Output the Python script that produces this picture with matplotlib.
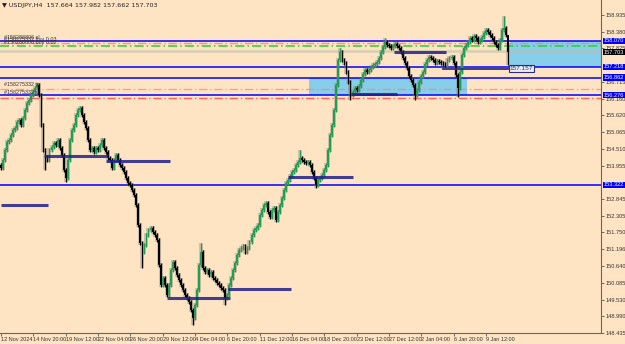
import numpy as np
import matplotlib.pyplot as plt
from matplotlib.transforms import blended_transform_factory

plt.rcParams['font.family'] = ['Liberation Sans', 'DejaVu Sans']

# USDJPY H4 - precos de fechamento
closes = [
    153.87, 154.14, 154.47, 154.73, 154.80, 154.96, 155.13, 155.20, 155.39, 155.46,
    155.29, 155.53, 155.79, 156.02, 156.12, 156.28, 156.38, 156.52, 156.61, 156.28,
    155.29, 154.47, 154.24, 154.14, 154.47, 154.57, 154.70, 154.63, 154.80, 154.53,
    154.30, 153.81, 153.54, 154.14, 154.80, 155.13, 155.29, 155.62, 155.79, 155.85,
    155.62, 155.39, 155.20, 154.80, 154.47, 154.53, 154.40, 154.53, 154.47, 154.63,
    154.80, 154.53, 154.40, 154.20, 154.14, 153.87, 154.14, 154.30, 154.14, 153.97,
    153.87, 153.74, 153.54, 153.38, 153.31, 153.15, 152.98, 152.65, 151.99, 151.40,
    151.10, 151.33, 151.66, 151.83, 151.89, 151.76, 151.66, 151.50, 150.67, 150.01,
    150.24, 150.01, 149.68, 150.01, 150.51, 150.77, 150.57, 150.34, 150.18, 150.01,
    149.85, 149.68, 149.58, 149.45, 149.19, 148.92, 149.35, 149.85, 150.67, 151.10,
    150.57, 150.44, 150.51, 150.34, 150.44, 150.24, 150.18, 150.08, 150.01, 149.91,
    149.85, 149.58, 149.68, 150.01, 150.24, 150.51, 150.74, 151.00, 151.17, 151.23,
    151.30, 151.10, 151.23, 151.43, 151.66, 151.83, 151.89, 151.99, 152.32, 152.49,
    152.65, 152.72, 152.42, 152.26, 152.49, 152.55, 152.16, 152.42, 152.65, 152.88,
    153.15, 153.38, 153.48, 153.61, 153.74, 153.81, 153.97, 154.07, 154.20, 154.14,
    154.07, 154.04, 154.07, 153.97, 153.74, 153.54, 153.31, 153.48, 153.54, 153.64,
    153.81, 153.97, 154.47, 154.96, 155.29, 155.79, 156.61, 157.44, 157.70, 157.44,
    157.34, 157.04, 156.71, 156.28, 156.38, 156.52, 156.45, 156.58, 156.78, 156.98,
    157.11, 157.04, 157.11, 157.21, 157.27, 157.31, 157.37, 157.51, 157.70, 157.87,
    158.03, 157.93, 157.90, 157.84, 157.90, 157.97, 157.90, 157.84, 157.70, 157.51,
    157.34, 157.18, 156.91, 156.78, 156.61, 156.28, 156.45, 156.71, 156.91, 157.04,
    157.31, 157.44, 157.54, 157.51, 157.44, 157.34, 157.41, 157.37, 157.34, 157.31,
    157.27, 157.44, 157.51, 157.54, 157.34, 156.94, 156.52, 157.04, 157.60, 157.84,
    157.93, 158.03, 158.17, 158.10, 158.23, 158.17, 158.03, 158.10, 158.20, 158.33,
    158.43, 158.36, 158.26, 158.17, 158.03, 157.93, 157.84, 158.10, 158.43, 158.50,
    158.26, 157.703,
]
# pavios maiores: indice -> (maxima, minima)
wicks = {
    22: (None, 153.81), 32: (None, 153.41), 39: (155.92, None), 70: (None, 150.57),
    95: (None, 148.69), 99: (151.40, None), 111: (None, 149.35), 148: (154.47, None),
    156: (None, 153.21), 168: (157.84, None), 173: (None, 156.12), 190: (158.17, None),
    205: (None, 156.12), 226: (None, 156.22), 240: (158.50, None), 249: (158.89, None),
    251: (157.982, 157.27),
}

date_labels = ["12 Nov 2024", "14 Nov 20:00", "19 Nov 12:00", "22 Nov 04:00", "26 Nov 20:00",
               "29 Nov 12:00", "4 Dec 04:00", "6 Dec 20:00", "11 Dec 12:00", "16 Dec 04:00",
               "18 Dec 20:00", "23 Dec 12:00", "27 Dec 12:00", "2 Jan 04:00", "6 Jan 20:00",
               "9 Jan 12:00"]
price_ticks = ["148.435", "148.990", "149.530", "150.085", "150.640", "151.196", "151.750",
               "152.305", "152.845", "153.955", "154.510", "155.065", "155.620",
               "156.160", "156.715", "157.825", "158.380", "158.935"]

blue_levels = [158.070, 157.218, 156.862, 156.276, 153.322]
# segmentos de suporte/resistencia: (preco, inicio, fim) em barras
segments = [(152.65, 0, 23.3), (154.27, 21.3, 53), (154.12, 52, 83.7), (149.58, 82.2, 113.4),
            (149.88, 112.4, 143.6), (153.59, 142, 174.3), (156.32, 173.3, 196),
            (157.69, 194.6, 220.3)]

bg = '#FFE4C4'
fig = plt.figure(figsize=(6.25, 3.44), dpi=100, facecolor=bg)
ax = fig.add_axes([0, 11/344, 601/625, 333/344])
ax.set_facecolor(bg)

n = len(closes)
idx = np.arange(n)
c = np.array(closes)
o = np.concatenate([[c[0] + 0.1], c[:-1]])
hi = np.maximum(o, c) + 0.07
lo = np.minimum(o, c) - 0.07
for k, (h, l) in wicks.items():
    if h is not None:
        hi[k] = h
    if l is not None:
        lo[k] = l

# retangulos azuis
ax.fill_between([152.5, 230.7], 156.276, 156.862, color='#87CEEB', zorder=1, lw=0)
ax.fill_between([252, 300], 157.218, 158.070, color='#87CEEB', zorder=1, lw=0)

# linhas horizontais
for p in blue_levels:
    ax.axhline(p, color='#0000FF', lw=1.1, zorder=2)
ax.axhline(158.00, color='#FA8072', lw=1, ls=(0, (6, 2, 1, 2)), alpha=0.8, zorder=2)
ax.axhline(156.48, color='#FA8072', lw=1, ls=(0, (6, 2, 1, 2)), alpha=0.7, zorder=2)
ax.axhline(156.19, color='#FF4040', lw=1, ls=(0, (6, 2, 1, 2)), alpha=0.8, zorder=2)
ax.axhline(157.90, color='#32CD32', lw=1.1, ls=(0, (6, 2, 1, 2)), zorder=2)
ax.axhline(157.75, color='#B8C0A8', lw=1.8, alpha=0.6, zorder=2)

# velas
up = c >= o
col = np.where(up, '#1F9E55', '#000000')
ax.vlines(idx, lo, hi, color='#7A7A6A', lw=2.8, alpha=0.35, zorder=3)
ax.vlines(idx, lo, hi, color=col, lw=0.9, zorder=4)
body = np.maximum(np.abs(c - o), 0.02)
ax.bar(idx, body, bottom=np.minimum(o, c), width=0.9, color=col, lw=0, zorder=4)

for p, x0, x1 in segments:
    ax.plot([x0, x1], [p, p], color='#20208C', lw=2.2, alpha=0.85, zorder=5,
            solid_capstyle='butt')
ax.plot([218.8, 251], [157.157, 157.157], color='#30307A', lw=1.3, zorder=5)
ax.text(251.8, 157.157, "157.157", fontsize=4.6, color='#2A2A80', va='center', ha='left',
        zorder=6, bbox=dict(boxstyle='square,pad=0.15', fc='#ECECF4', ec='#2A2A80', lw=0.8))

# textos a esquerda
left_txt = [(158.115, "#158288806 sl"), (158.02, "#158275332 buy 0.03"),
            (157.92, "#158286806 buy 0.02"), (156.55, "#158275332 tp"),
            (156.27, "#158275332 sl")]
for p, t in left_txt:
    ax.text(1.5, p, t, fontsize=3.9, color='#333333', va='bottom', ha='left', zorder=6)

ax.text(0.004, 0.992, "\u25bc USDJPY,H4  157.664 157.982 157.662 157.703", transform=ax.transAxes,
        fontsize=4.6, color='#222222', va='top', ha='left', family=['DejaVu Sans'])

ax.set_xlim(-0.5, 297)
ax.set_ylim(148.43, 159.42)

ax.set_xticks(np.arange(len(date_labels)) * 16)
ax.set_xticklabels(date_labels, fontsize=4.0, color='#333333', ha='left')
ax.yaxis.tick_right()
ax.set_yticks([float(t) for t in price_ticks])
ax.set_yticklabels(price_ticks, fontsize=4.1, color='#333333')
ax.tick_params(axis='both', length=2, width=0.6, color='#555555', pad=1)
for s in ['top', 'left']:
    ax.spines[s].set_visible(False)
for s in ['right', 'bottom']:
    ax.spines[s].set_color('#666666')
    ax.spines[s].set_linewidth(0.8)

# etiquetas destacadas no eixo de precos
tr = blended_transform_factory(ax.transAxes, ax.transData)
for p in blue_levels:
    ax.text(1.005, p, "%.3f" % p, transform=tr, fontsize=4.1, color='white', va='center',
            ha='left', clip_on=False, zorder=10,
            bbox=dict(boxstyle='square,pad=0.12', fc='#0000FF', ec='none'))
ax.text(1.005, 157.703, "157.703", transform=tr, fontsize=4.1, color='white', va='center',
        ha='left', clip_on=False, zorder=10,
        bbox=dict(boxstyle='square,pad=0.12', fc='#000000', ec='none'))

plt.savefig('out.png', dpi=100, facecolor=bg)
